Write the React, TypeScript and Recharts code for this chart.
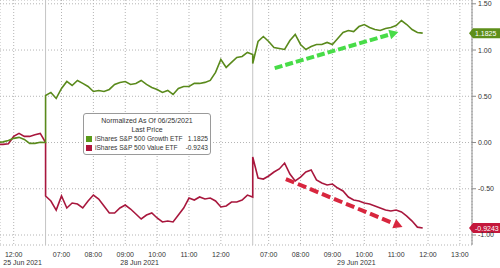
import React from 'react';
import { CartesianGrid, Line, LineChart, ReferenceDot, ReferenceLine, XAxis, YAxis } from 'recharts';

// x is hours since the 28 Jun open (06:30); each session is 6.5h and nights are dropped
const sessionStarts = [-6.5, 0, 6.5];
const firstSlot = [30, 0, 0]; // 10-minute slots; 25 Jun is shown from 11:30
const sessionBreaks = [0, 6.5];

const growth25 = [0.002, 0.007, 0.023, 0.045, 0.056, 0.034, -0.009, -0.009, 0.002, 0.0];
const value25 = [-0.02, -0.02, -0.014, 0.066, 0.099, 0.066, 0.066, 0.083, 0.099, 0.0];

const growth28 = [
  0.509, 0.542, 0.477, 0.585, 0.66, 0.617, 0.671, 0.639, 0.606, 0.552,
  0.563, 0.552, 0.574, 0.628, 0.65, 0.66, 0.628, 0.639, 0.671, 0.628,
  0.596, 0.574, 0.542, 0.563, 0.52, 0.585, 0.606, 0.606, 0.639, 0.639,
  0.65, 0.671, 0.758, 0.898, 0.812, 0.866, 0.92, 0.93, 0.974, 0.952,
];
const value28 = [
  -0.578, -0.632, -0.73, -0.578, -0.708, -0.654, -0.665, -0.708, -0.632, -0.568,
  -0.611, -0.686, -0.762, -0.762, -0.708, -0.676, -0.719, -0.773, -0.827, -0.784,
  -0.762, -0.816, -0.859, -0.849, -0.859, -0.784, -0.708, -0.6, -0.622, -0.589,
  -0.611, -0.6, -0.632, -0.697, -0.686, -0.643, -0.643, -0.622, -0.568, -0.589,
];

const growth29 = [
  0.855, 1.092, 1.146, 1.092, 1.028, 1.017, 1.006, 1.103, 1.168, 1.06,
  1.006, 1.038, 1.06, 1.06, 1.082, 1.06, 1.125, 1.19, 1.211, 1.2,
  1.254, 1.276, 1.244, 1.222, 1.211, 1.233, 1.244, 1.265, 1.319, 1.276,
  1.222, 1.19, 1.1825,
];
const value29 = [
  -0.157, -0.384, -0.395, -0.362, -0.319, -0.286, -0.222, -0.341, -0.416, -0.373,
  -0.319, -0.297, -0.405, -0.438, -0.459, -0.449, -0.492, -0.524, -0.589, -0.622,
  -0.632, -0.654, -0.665, -0.686, -0.708, -0.73, -0.741, -0.73, -0.751, -0.795,
  -0.849, -0.915, -0.9243,
];

const timeTicks = [-1, 0.5, 1.5, 2.5, 3.5, 4.5, 5.5, 7, 8, 9, 10, 11, 12, 13];
const timeLabels = ['12:00', '07:00', '08:00', '09:00', '10:00', '11:00', '12:00', '07:00', '08:00', '09:00', '10:00', '11:00', '12:00', '13:00'];
const dateTicks = [-0.72, 2.95, 9.75];
const dateLabels = ['25 Jun 2021', '28 Jun 2021', '29 Jun 2021'];
const yTicks = [-1, -0.5, 0, 0.5, 1, 1.5];

const upTrend = [{ x: 7.19, y: 0.805 }, { x: 11.07, y: 1.195 }];
const downTrend = [{ x: 7.54, y: -0.395 }, { x: 11.2, y: -0.914 }];

const X_DOMAIN: [number, number] = [-1.43, 13.38];
const Y_DOMAIN: [number, number] = [-1.108, 1.541];

const GREEN = '#5a8a1c';
const RED = '#a8173d';
const FONT = "'Liberation Sans', Arial, sans-serif";
const FS = 7;

const sessions = [
  [growth25, value25],
  [growth28, value28],
  [growth29, value29],
];
const data = sessions.flatMap(([g, v], s) =>
  g.map((growth, i) => ({ t: sessionStarts[s] + (firstSlot[s] + i) / 6, growth, value: v[i] })),
);

const lastGrowth = growth29[growth29.length - 1];
const lastValue = value29[value29.length - 1];

function arrow(color: string, dash: string) {
  return (p: any) => {
    const { x1, y1, x2, y2 } = p;
    const dx = x2 - x1;
    const dy = y2 - y1;
    const len = Math.hypot(dx, dy) || 1;
    const ux = dx / len;
    const uy = dy / len;
    const bx = x2 - ux * 9;
    const by = y2 - uy * 9;
    const nx = -uy * 5;
    const ny = ux * 5;
    return (
      <g>
        <line x1={x1} y1={y1} x2={bx} y2={by} stroke={color} strokeWidth={4} strokeDasharray={dash} />
        <polygon points={`${x2},${y2} ${bx + nx},${by + ny} ${bx - nx},${by - ny}`} fill={color} />
      </g>
    );
  };
}

function badge(color: string, text: string) {
  return (p: any) => {
    const { cx, cy } = p;
    return (
      <g>
        <path d={`M${cx - 3},${cy} L${cx + 1},${cy - 5} H${cx + 30} V${cy + 5} H${cx + 1} Z`} fill={color} />
        <text x={cx + 3} y={cy + 2.5} fill="#fff" fontSize={FS} fontFamily={FONT}>
          {text}
        </text>
      </g>
    );
  };
}

const legendRow = { display: 'flex', alignItems: 'center', height: 9, whiteSpace: 'nowrap', fontSize: 6.6 } as const;
const swatch = (c: string) => ({ width: 6, height: 6, background: c, marginRight: 3, display: 'inline-block' });
const tickStyle = { fontSize: FS, fill: '#333', fontFamily: FONT };

export default function App() {
  return (
    <div style={{ position: 'absolute', left: 0, top: 0, width: 500, height: 268, background: '#fff', fontFamily: FONT }}>
      <LineChart width={500} height={268} data={data} margin={{ top: 0, right: 0, bottom: 0, left: 0 }}>
        <CartesianGrid stroke="#b4b4b4" strokeDasharray="1 2" />
        {sessionBreaks.map((b) => (
          <ReferenceLine key={b} x={b} stroke="#c4c4c4" strokeWidth={1} />
        ))}
        <XAxis
          dataKey="t"
          type="number"
          domain={X_DOMAIN}
          allowDataOverflow
          ticks={timeTicks}
          tickFormatter={(v) => timeLabels[timeTicks.indexOf(v)] ?? ''}
          axisLine={false}
          tickLine={false}
          tickSize={4}
          tickMargin={3}
          height={13}
          interval={0}
          tick={tickStyle}
        />
        <XAxis
          xAxisId="dates"
          dataKey="t"
          type="number"
          domain={X_DOMAIN}
          allowDataOverflow
          ticks={dateTicks}
          tickFormatter={(v) => dateLabels[dateTicks.indexOf(v)] ?? ''}
          axisLine={false}
          tickLine={false}
          tickSize={0}
          tickMargin={2}
          height={10}
          interval={0}
          tick={tickStyle}
        />
        <YAxis
          orientation="right"
          type="number"
          domain={Y_DOMAIN}
          allowDataOverflow
          ticks={yTicks}
          tickFormatter={(v) => v.toFixed(2)}
          width={28}
          tickSize={4}
          tickMargin={2}
          axisLine={{ stroke: '#8c8c8c' }}
          tickLine={{ stroke: '#8c8c8c' }}
          interval={0}
          tick={tickStyle}
        />
        <Line dataKey="value" stroke={RED} strokeWidth={1.6} dot={false} isAnimationActive={false} />
        <Line dataKey="growth" stroke={GREEN} strokeWidth={1.6} dot={false} isAnimationActive={false} />
        <ReferenceLine segment={upTrend} ifOverflow="visible" shape={arrow('#48dc48', '8 3')} />
        <ReferenceLine segment={downTrend} ifOverflow="visible" shape={arrow('#d8263e', '9 4')} />
        <ReferenceDot x={X_DOMAIN[1]} y={lastGrowth} ifOverflow="visible" shape={badge('#5e8f1a', lastGrowth.toFixed(4))} />
        <ReferenceDot x={X_DOMAIN[1]} y={lastValue} ifOverflow="visible" shape={badge('#c4183c', lastValue.toFixed(4))} />
      </LineChart>
      <div
        style={{
          position: 'absolute',
          left: 83,
          top: 113,
          width: 122,
          height: 38,
          background: '#fff',
          border: '1px solid #9a9a9a',
          borderRadius: 3,
          fontSize: FS,
          color: '#333',
          padding: '2px 2px 0 2px',
          lineHeight: '9px',
        }}
      >
        <div style={{ textAlign: 'center', whiteSpace: 'nowrap' }}>Normalized As Of 06/25/2021</div>
        <div style={{ textAlign: 'center' }}>Last Price</div>
        <div style={legendRow}>
          <span style={swatch('#5a9a1a')} />
          <span style={{ flex: 1 }}>iShares S&amp;P 500 Growth ETF</span>
          <span>{lastGrowth.toFixed(4)}</span>
        </div>
        <div style={legendRow}>
          <span style={swatch('#b0143c')} />
          <span style={{ flex: 1 }}>iShares S&amp;P 500 Value ETF</span>
          <span>{lastValue.toFixed(4)}</span>
        </div>
      </div>
    </div>
  );
}
